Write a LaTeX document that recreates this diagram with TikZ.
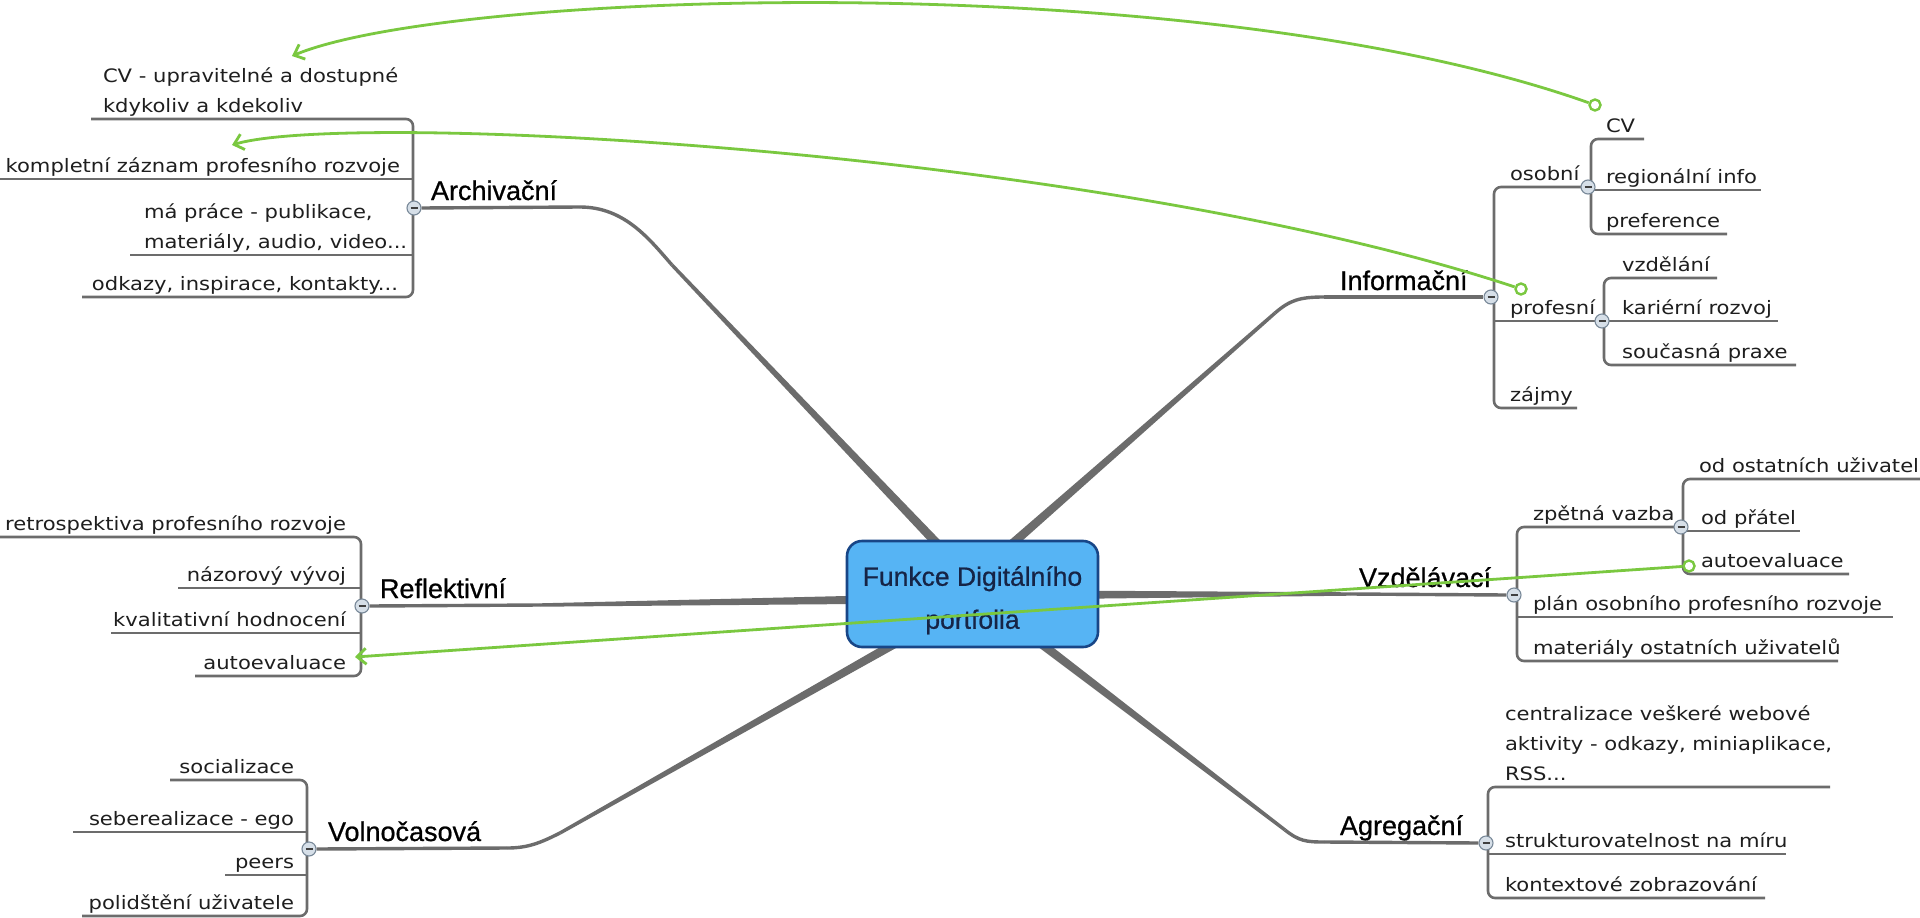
\documentclass[tikz,border=0pt]{standalone}
\usepackage{fontspec}
\usetikzlibrary{calc,arrows.meta}
\newfontfamily\subf[FakeStretch=1.14]{DejaVu Sans}
\newfontfamily\mainf[FakeBold=0.7]{Liberation Sans}
\definecolor{lgray}{RGB}{108,108,108}
\definecolor{gline}{RGB}{122,200,64}
\definecolor{boxfill}{RGB}{86,180,244}
\definecolor{boxdraw}{RGB}{24,70,135}
\definecolor{boxtxt}{RGB}{22,36,70}
\definecolor{btnfill}{RGB}{214,223,232}
\definecolor{btndraw}{RGB}{120,136,152}
\definecolor{txt}{RGB}{30,30,30}
\newcommand{\sfnt}{\subf\fontsize{18.5pt}{30pt}\selectfont}
\newcommand{\mfnt}{\mainf\fontsize{27pt}{32pt}\selectfont}
\newcommand{\wedgebr}[2]{\fill[lgray] ($(#1)!1.7pt!90:(#2)$) -- ($(#2)!5pt!-90:(#1)$) -- ($(#2)!5pt!90:(#1)$) -- ($(#1)!1.7pt!-90:(#2)$) -- cycle;}
\tikzset{
 sub/.style={font=\sfnt, text=txt, inner sep=0pt, outer sep=0pt},
 lab/.style={font=\mfnt, text=black, inner sep=0pt, outer sep=0pt},
 uline/.style={draw=lgray, line width=2.6pt},
 brk/.style={draw=lgray, line width=2.6pt, rounded corners=7pt},
 mline/.style={draw=lgray, line width=3.4pt},
 mbtn/.style={circle, draw=btndraw, line width=1.1pt, fill=btnfill, minimum size=14pt, inner sep=0pt,
   path picture={\draw[line width=1.4pt, black!75] ([xshift=-3.5pt]path picture bounding box.center) -- ([xshift=3.5pt]path picture bounding box.center);}},
 glink/.style={draw=gline, line width=2.8pt, -{Straight Barb[length=9pt,width=16pt]}},
 gdot/.style={circle, draw=gline, line width=2.4pt, fill=white, minimum size=11pt, inner sep=0pt},
}
\begin{document}
\begin{tikzpicture}[x=1pt,y=-1pt]
\useasboundingbox (0,0) rectangle (1920,918);
\fill[white] (0,0) rectangle (1920,918);
\clip (0,0) rectangle (1920,918);

% ---------- main branches ----------
\coordinate (aU) at (580,207); \coordinate (aP) at (672,265); \coordinate (aC) at (985,594);
\draw[mline] (aU) .. controls (625,207) and (650,240) .. (aP);
\wedgebr{aP}{aC}
\coordinate (iU) at (1324,297); \coordinate (iP) at (1275,313); \coordinate (iC) at (955,594);
\draw[mline] (iU) .. controls (1300,297) and (1290,300) .. (iP);
\wedgebr{iP}{iC}
\coordinate (rU) at (540,605); \coordinate (rC) at (972,598);
\wedgebr{rU}{rC}
\coordinate (zU) at (1350,594); \coordinate (zC) at (972,595);
\wedgebr{zU}{zC}
\coordinate (vU) at (507,848); \coordinate (vP) at (560,833); \coordinate (vC) at (972,600);
\draw[mline] (vU) .. controls (528,848) and (540,843) .. (vP);
\wedgebr{vP}{vC}
\coordinate (gU) at (1324,842); \coordinate (gP) at (1285,830); \coordinate (gC) at (984,600);
\draw[mline] (gU) .. controls (1306,842) and (1299,841) .. (gP);
\wedgebr{gP}{gC}

% ---------- root ----------
\node[draw=boxdraw, line width=2.6pt, fill=boxfill, rounded corners=15pt,
      minimum width=251pt, minimum height=106pt, inner sep=0pt,
      font=\mainf\fontsize{26.5pt}{43pt}\selectfont, text=boxtxt, align=center]
      (root) at (972.5,594) {\rule{0pt}{32pt}Funkce Digitálního\\portfolia};

% ---------- Archivační ----------
\node[lab, anchor=base west] (arch) at (431,200) {Archivační};
\node[sub, anchor=base west] (a1) at (103,112) {\begin{tabular}[b]{@{}l@{}}CV - upravitelné a dostupné\\kdykoliv a kdekoliv\end{tabular}};
\node[sub, anchor=base east] (a2) at (400,172) {kompletní záznam profesního rozvoje};
\node[sub, anchor=base west] (a3) at (144,248) {\begin{tabular}[b]{@{}l@{}}má práce - publikace,\\materiály, audio, video...\end{tabular}};
\node[sub, anchor=base east] (a4) at (398,290) {odkazy, inspirace, kontakty...};
\draw[brk] (91,119) -- (413,119) -- (413,297) -- (82,297);
\draw[uline] (0,179) -- (413,179);
\draw[uline] (130,255) -- (413,255);
\node[mbtn] (archb) at (414,208) {};
\draw[mline] (archb.east) -- (aU);

% ---------- Reflektivní ----------
\node[lab, anchor=base west] (refl) at (380,598) {Reflektivní};
\node[sub, anchor=base east] (r1) at (346,530) {retrospektiva profesního rozvoje};
\node[sub, anchor=base east] (r2) at (346,581) {názorový vývoj};
\node[sub, anchor=base east] (r3) at (346,626) {kvalitativní hodnocení};
\node[sub, anchor=base east] (r4) at (346,669) {autoevaluace};
\draw[brk] (0,537) -- (361,537) -- (361,676) -- (195,676);
\draw[uline] (178,588) -- (361,588);
\draw[uline] (111,633) -- (361,633);
\node[mbtn] (reflb) at (362,606) {};
\draw[mline] (reflb.east) -- (rU);

% ---------- Volnočasová ----------
\node[lab, anchor=base west] (voln) at (328,841) {Volnočasová};
\node[sub, anchor=base east] (v1) at (294,773) {socializace};
\node[sub, anchor=base east] (v2) at (294,825) {seberealizace - ego};
\node[sub, anchor=base east] (v3) at (294,868) {peers};
\node[sub, anchor=base east] (v4) at (294,909) {polidštění uživatele};
\draw[brk] (170,780) -- (307,780) -- (307,916) -- (82,916);
\draw[uline] (73,832) -- (307,832);
\draw[uline] (225,875) -- (307,875);
\node[mbtn] (volnb) at (309,849) {};
\draw[mline] (volnb.east) -- (vU);

% ---------- Informační ----------
\node[lab, anchor=base west] (info) at (1340,290) {Informační};
\node[sub, anchor=base west] (osob) at (1510,180) {osobní};
\node[sub, anchor=base west] (prof) at (1510,314) {profesní};
\node[sub, anchor=base west] (zajm) at (1510,401) {zájmy};
\draw[brk] (1588,187) -- (1494,187) -- (1494,408) -- (1577,408);
\draw[uline] (1494,321) -- (1601,321);
\node[sub, anchor=base west] (cv) at (1606,132) {CV};
\node[sub, anchor=base west] (regi) at (1606,183) {regionální info};
\node[sub, anchor=base west] (pref) at (1606,227) {preference};
\draw[brk] (1644,139) -- (1591,139) -- (1591,234) -- (1727,234);
\draw[uline] (1591,190) -- (1761,190);
\node[sub, anchor=base west] (vzde) at (1622,271) {vzdělání};
\node[sub, anchor=base west] (kari) at (1622,314) {kariérní rozvoj};
\node[sub, anchor=base west] (soup) at (1622,358) {současná praxe};
\draw[brk] (1717,278) -- (1604,278) -- (1604,365) -- (1796,365);
\draw[uline] (1604,321) -- (1778,321);
\node[mbtn] (osobb) at (1588,187) {};
\node[mbtn] (profb) at (1602,321) {};
\node[mbtn] (infob) at (1491,297) {};
\draw[mline] (iU) -- (infob.west);

% ---------- Vzdělávací ----------
\node[lab, anchor=base west] (vzdl) at (1359,587) {Vzdělávací};
\node[sub, anchor=base west] (zpet) at (1533,520) {zpětná vazba};
\node[sub, anchor=base west] (plan) at (1533,610) {plán osobního profesního rozvoje};
\node[sub, anchor=base west] (mate) at (1533,654) {materiály ostatních uživatelů};
\draw[brk] (1680,527) -- (1517,527) -- (1517,661) -- (1838,661);
\draw[uline] (1517,617) -- (1893,617);
\node[sub, anchor=base west] (odos) at (1699,472) {od ostatních uživatelů};
\node[sub, anchor=base west] (odpr) at (1701,524) {od přátel};
\node[sub, anchor=base west] (auto) at (1701,567) {autoevaluace};
\draw[brk] (1930,479) -- (1683,479) -- (1683,574) -- (1849,574);
\draw[uline] (1683,531) -- (1800,531);
\node[mbtn] (zpetb) at (1681,527) {};
\node[mbtn] (vzdlb) at (1514,595) {};
\draw[mline] (zU) -- (vzdlb.west);

% ---------- Agregační ----------
\node[lab, anchor=base west] (agre) at (1340,835) {Agregační};
\node[sub, anchor=base west] (g1) at (1505,780) {\begin{tabular}[b]{@{}l@{}}centralizace veškeré webové\\aktivity - odkazy, miniaplikace,\\RSS...\end{tabular}};
\node[sub, anchor=base west] (g2) at (1505,847) {strukturovatelnost na míru};
\node[sub, anchor=base west] (g3) at (1505,891) {kontextové zobrazování};
\draw[brk] (1830,787) -- (1488,787) -- (1488,898) -- (1765,898);
\draw[uline] (1488,854) -- (1786,854);
\node[mbtn] (agreb) at (1486,843) {};
\draw[mline] (gU) -- (agreb.west);

% ---------- green links ----------
\node[gdot] (d1) at (1595,105) {};
\coordinate (e1) at (292,56);
\draw[glink] (d1) .. controls (1200,-35) and (450,-10) .. (e1);
\node[gdot] (d2) at (1521,289) {};
\coordinate (e2) at (232,145);
\draw[glink] (d2) .. controls (1100,150) and (350,110) .. (e2);
\node[gdot] (d3) at (1689,566) {};
\coordinate (e3) at (355,657);
\draw[glink] (d3) -- (e3);
\end{tikzpicture}
\end{document}
